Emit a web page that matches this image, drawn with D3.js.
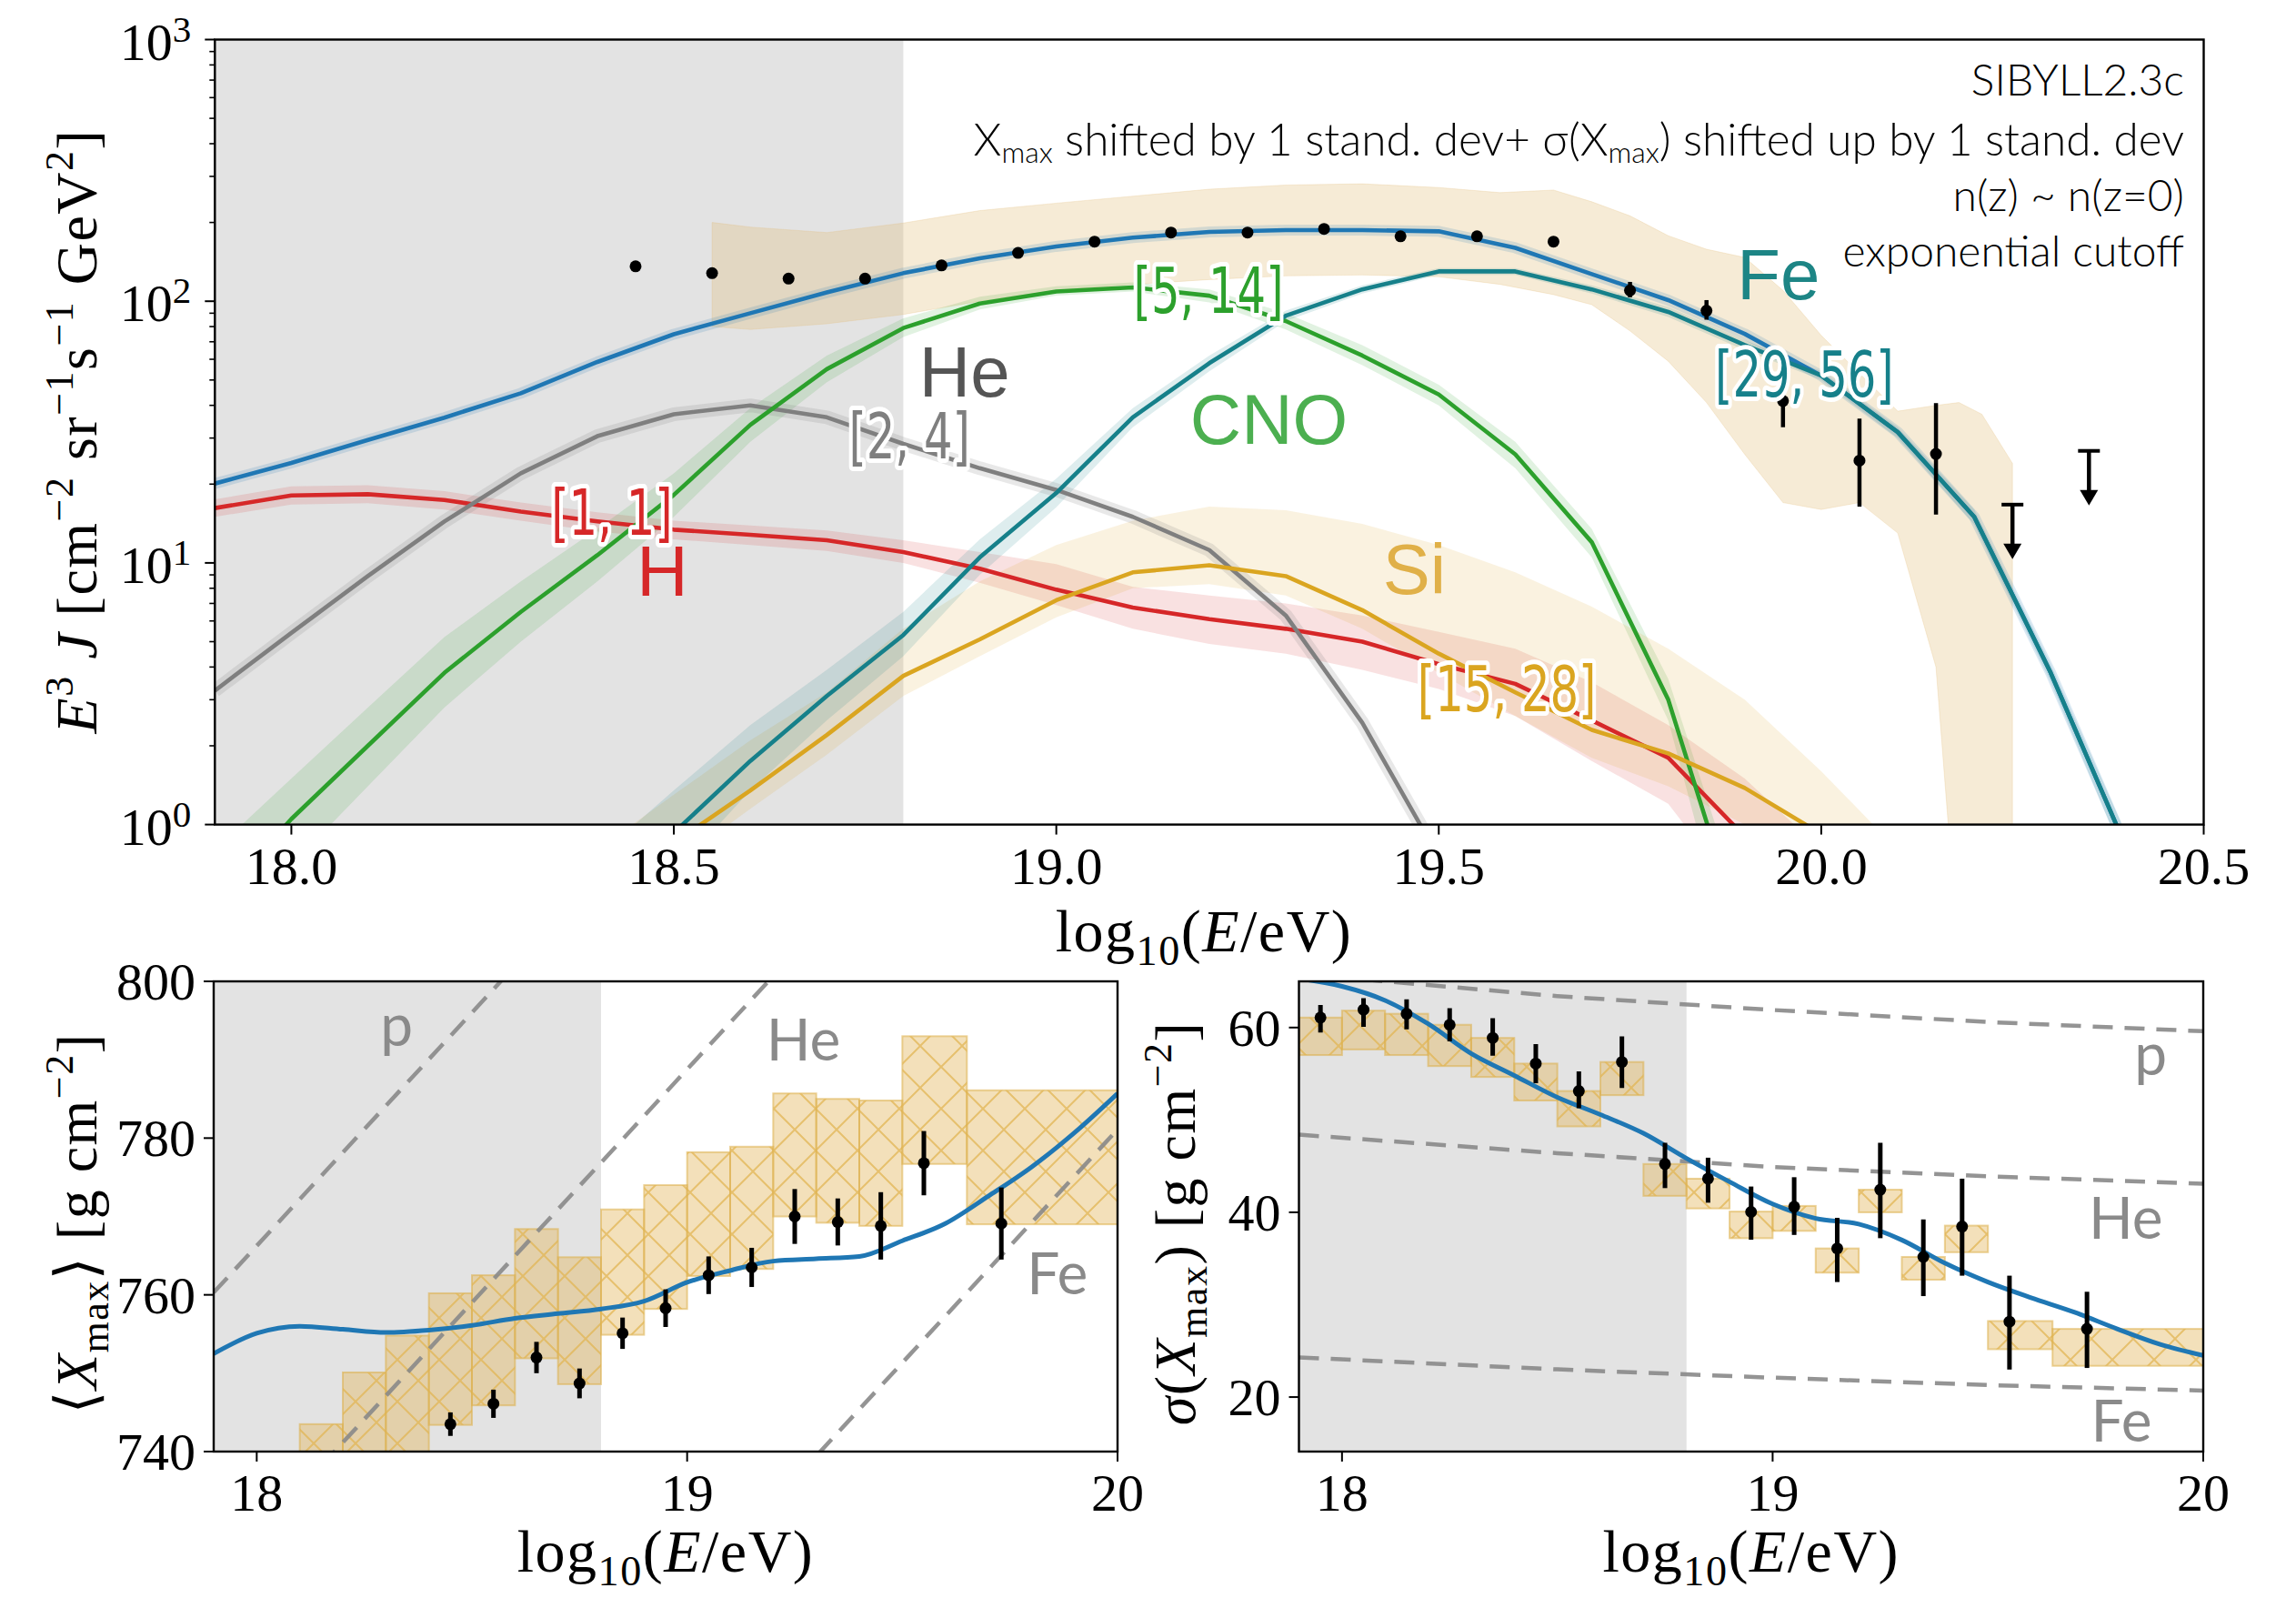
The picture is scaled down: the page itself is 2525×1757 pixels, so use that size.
<!DOCTYPE html>
<html>
<head>
<meta charset="utf-8">
<script src="https://cdn.jsdelivr.net/npm/d3@7"></script>
<style>
  body { margin: 0; background: #fff; }
  text { white-space: pre; }
</style>
</head>
<body>
<svg id="chart" width="2525" height="1757"></svg>
<script>
// ---------------- data: upper panel (E^3 J) ----------------
const lgE = [17.9, 18.0, 18.1, 18.2, 18.3, 18.4, 18.5, 18.6, 18.7, 18.8, 18.9, 19.0, 19.1,
             19.2, 19.3, 19.4, 19.5, 19.6, 19.7, 19.8, 19.9, 20.0, 20.1, 20.2, 20.3, 20.4];
const fluxTotal = [20.1, 24.1, 29.5, 35.9, 44.5, 58.6, 74.8, 90, 108, 128, 146, 162, 175,
                   184, 187, 187, 185, 160, 127, 101, 75, 52, 31.6, 15, 3.8, 0.8];
const fluxH   = [16.2, 18.1, 18.3, 17.4, 15.7, 14.4, 13.4, 12.8, 12.2, 11.0, 9.5, 7.9, 6.75,
                 6.1, 5.6, 5.0, 4.1, 3.45, 2.5, 1.8, 0.9, 0.35, null, null, null, null];
const fluxHlo = [15.0, 16.7, 16.9, 16.0, 14.5, 13.2, 12.3, 11.7, 11.1, 10.0, 8.4, 6.9, 5.6,
                 4.9, 4.5, 3.9, 3.3, 2.6, 1.75, 1.2, 0.5, 0.2, null, null, null, null];
const fluxHhi = [17.5, 19.6, 19.8, 18.8, 17.0, 15.6, 14.5, 13.9, 13.3, 12.2, 11.0, 9.9, 8.1,
                 7.5, 7.0, 6.3, 5.45, 4.7, 3.5, 2.4, 1.5, 0.8, null, null, null, null];
const fluxHe  = [3.25, 5.4, 8.9, 14.4, 22, 30.5, 37, 40, 36, 28.5, 23, 19, 15,
                 11.2, 6.3, 2.45, 0.75, 0.2, null, null, null, null, null, null, null, null];
const fluxCNO   = [0.5, 1.05, 2.0, 3.8, 6.5, 10.7, 18.2, 33.7, 55, 79, 98, 109, 113,
                   105, 84, 62, 44, 26, 12, 3, 0.35, null, null, null, null, null];
const fluxCNOlo = [0.3, 0.7, 1.4, 2.8, 5.0, 8.5, 15.0, 29, 49, 73, 93, 105, 109,
                   99, 78, 57, 40, 23, 10.5, 2.5, 0.2, null, null, null, null, null];
const fluxCNOhi = [0.8, 1.5, 2.8, 5.2, 8.5, 13.5, 22, 39, 62, 86, 104, 114, 118,
                   111, 90, 68, 48, 29, 13.5, 3.6, 0.45, null, null, null, null, null];
const fluxSi   = [null, null, null, null, null, 0.5, 0.85, 1.35, 2.2, 3.7, 5.1, 7.2, 9.2,
                  9.8, 8.9, 6.6, 4.5, 3.2, 2.3, 1.87, 1.38, 0.92, 0.5, null, null, null];
const fluxSilo = [null, null, null, null, null, 0.35, 0.7, 1.15, 1.85, 3.1, 4.4, 6.2, 8.0,
                  8.3, 7.5, 5.6, 3.8, 2.6, 1.8, 1.4, 1.0, 0.6, 0.3, null, null, null];
const fluxSihi = [null, null, null, null, null, 0.8, 1.3, 2.1, 3.2, 5.6, 8.5, 11.7, 14.5,
                  16.4, 15.9, 14.1, 11.7, 9.2, 6.8, 4.7, 3.0, 1.6, 0.8, null, null, null];
const fluxFe   = [null, null, null, null, null, 0.45, 0.93, 1.75, 3.1, 5.3, 10.5, 18.5, 36,
                  58, 88, 111, 130, 130, 111, 91, 68, 52, 31.6, 15, 3.8, 0.8];
const fluxFelo = [null, null, null, null, null, 0.3, 0.65, 1.35, 2.5, 4.4, 9.0, 16.3, 33,
                  54, 84, 107, 126, 126, 107, 87, 65, 50, 30, 14, 3.5, 0.7];
const fluxFehi = [null, null, null, null, null, 0.75, 1.35, 2.4, 3.9, 6.5, 12.3, 21, 39,
                  62, 92, 115, 134, 134, 115, 95, 71, 54, 33, 16, 4.1, 0.9];

// measured spectrum (points), with its systematic band
const specE  = [18.45, 18.55, 18.65, 18.75, 18.85, 18.95, 19.05, 19.15, 19.25, 19.35, 19.45,
                19.55, 19.65, 19.75, 19.85, 19.95, 20.05, 20.15];
const specJ  = [136, 128, 122, 122, 137, 153, 169, 183, 183, 189, 177, 177, 169, 110, 92, 41.6, 24.6, 26.1];
const specLo = [135, 127, 121, 121, 136, 152, 167, 181, 181, 186, 174, 173, 164, 103.5, 85, 33, 16.4, 15.3];
const specHi = [137, 129, 123, 123, 138, 154, 171, 185, 185, 192, 180, 181, 174, 118.5, 101, 50, 35.6, 40.8];
const limE = [20.25, 20.35];
const limJ = [16.7, 26.8];
const bandE  = [18.55, 18.6, 18.7, 18.8, 18.9, 19.0, 19.1, 19.2, 19.3, 19.4, 19.5, 19.58, 19.65,
                19.7, 19.75, 19.8, 19.85, 19.9, 19.95, 20.0, 20.05, 20.1, 20.15, 20.18, 20.21, 20.25];
const bandHi = [200, 192, 183, 199, 222, 237, 252, 268, 278, 281, 272, 260, 266,
                240, 212, 178, 158, 147, 110, 74, 53, 38, 40, 41, 37, 24];
const bandLo = [80, 78, 82, 89, 100, 110, 116, 121, 125, 126, 124, 116, 106,
                97, 77, 59, 41, 26, 17, 16, 17, 13, 4, 0.3, 0.3, 0.3];

// ---------------- data: lower left (<Xmax>) ----------------
const xmaxBinLo = [18.1, 18.2, 18.3, 18.4, 18.5, 18.6, 18.7, 18.8, 18.9, 19.0, 19.1, 19.2, 19.3, 19.4, 19.5, 19.65];
const xmaxBinHi = [18.2, 18.3, 18.4, 18.5, 18.6, 18.7, 18.8, 18.9, 19.0, 19.1, 19.2, 19.3, 19.4, 19.5, 19.65, 20.0];
const xmaxSysTop = [743.5, 750.1, 754.8, 760.2, 762.5, 768.4, 764.8, 770.9, 774.0, 778.2, 778.9, 785.7, 785.0, 784.8, 793.0, 786.1];
const xmaxSysBot = [727.5, 734.0, 738.8, 743.4, 745.9, 751.9, 748.6, 754.9, 758.2, 762.4, 763.3, 770.0, 769.2, 768.8, 776.7, 769.0];
const xmaxE   = [18.45, 18.55, 18.65, 18.75, 18.85, 18.95, 19.05, 19.15, 19.25, 19.35, 19.45, 19.55, 19.73];
const xmaxVal = [743.5, 746.1, 752.0, 748.7, 755.1, 758.3, 762.5, 763.5, 770.0, 769.3, 768.8, 776.8, 769.1];
const xmaxErr = [1.5, 1.8, 2.0, 1.9, 2.0, 2.4, 2.4, 2.5, 3.5, 3.0, 4.3, 4.1, 4.6];
const modelE = [17.9, 18.0, 18.1, 18.2, 18.3, 18.4, 18.5, 18.6, 18.7, 18.8, 18.9,
                19.0, 19.1, 19.2, 19.3, 19.4, 19.5, 19.6, 19.7, 19.8, 19.9, 20.0];
const xmaxModel = [752.5, 755.1, 756.0, 755.6, 755.2, 755.5, 756.1, 757.0, 757.6, 758.2, 759.2,
                   761.6, 763.1, 764.3, 764.6, 764.9, 766.9, 769.1, 772.6, 776.3, 780.7, 785.7];
const refEndE = [17.9, 20.0];
const xmaxP  = [760.3, 885.3];
const xmaxHe = [723.3, 848.3];
const xmaxFe = [656.1, 781.1];

// ---------------- data: lower right (sigma(Xmax)) ----------------
const sigBinLo = [17.9, 18.0, 18.1, 18.2, 18.3, 18.4, 18.5, 18.6, 18.7, 18.8, 18.9, 19.0, 19.1, 19.2, 19.3, 19.4, 19.5, 19.65];
const sigBinHi = [18.0, 18.1, 18.2, 18.3, 18.4, 18.5, 18.6, 18.7, 18.8, 18.9, 19.0, 19.1, 19.2, 19.3, 19.4, 19.5, 19.65, 20.0];
const sigSysTop = [61.08, 61.83, 61.49, 60.3, 58.88, 56.1, 53.13, 56.27, 45.23, 43.64, 40.08, 40.69, 36.09, 42.45, 35.17, 38.56, 28.23, 27.38];
const sigSysBot = [57.02, 57.63, 57.02, 55.83, 54.65, 52.1, 49.3, 52.68, 41.78, 40.42, 37.2, 37.99, 33.47, 40.0, 32.7, 35.68, 25.18, 23.38];
const sigE   = [17.95, 18.05, 18.15, 18.25, 18.35, 18.45, 18.55, 18.65, 18.75, 18.85, 18.95, 19.05, 19.15, 19.25, 19.35, 19.44, 19.55, 19.73];
const sigVal = [61.08, 61.93, 61.49, 60.3, 58.88, 56.1, 53.13, 56.27, 45.23, 43.64, 40.04, 40.6, 36.09, 42.45, 35.17, 38.46, 28.16, 27.38];
const sigLo  = [59.46, 60.07, 59.8, 58.5, 56.95, 53.97, 51.27, 53.46, 42.62, 41.04, 37.03, 37.55, 32.45, 37.2, 30.93, 33.14, 22.98, 23.15];
const sigHi  = [62.44, 63.18, 63.05, 62.1, 61.01, 58.2, 55.26, 59.05, 47.53, 45.91, 42.79, 43.8, 39.4, 47.53, 39.23, 43.64, 33.14, 31.4];
const sigModel = [65.3, 64.46, 62.94, 60.4, 57.19, 54.82, 52.45, 50.58, 48.55, 45.84, 43.3,
                  40.9, 39.34, 38.72, 37.0, 34.5, 32.45, 30.76, 29.2, 27.38, 25.7, 24.5];
const refSigE = [17.9, 18.5, 19.0, 19.5, 20.0];
const sigP  = [65.8, 63.4, 61.9, 60.6, 59.6];
const sigHeRef = [48.4, 46.4, 44.9, 43.9, 43.1];
const sigFeRef = [24.3, 23.0, 22.1, 21.3, 20.7];

// ---------------- style ----------------
const serif = "'Liberation Serif', 'DejaVu Serif', serif";
const gill = "Lato, 'Open Sans', sans-serif";
const sans = "'Liberation Sans', Arial, sans-serif";
const narrow = "'Liberation Sans Narrow', 'DejaVu Sans Condensed', sans-serif";
const cBlue = "#1f77b4", cRed = "#d62728", cGray = "#7f7f7f", cGreen = "#2ca02c",
      cTeal = "#16808a", cGold = "#daa520", cShade = "#e3e3e3";

const svg = d3.select("#chart");
svg.append("rect").attr("width", 2525).attr("height", 1757).attr("fill", "#fff");
const defs = svg.append("defs");

const hatch = defs.append("pattern").attr("id", "hatch")
    .attr("patternUnits", "userSpaceOnUse").attr("width", 46).attr("height", 46);
hatch.append("path").attr("d", "M0,0L46,46M46,0L0,46M-23,23L23,69M23,-23L69,23M23,-23L-23,23M69,23L23,69")
    .attr("stroke", "#e2b654").attr("stroke-width", 2).attr("opacity", 0.75);

function clip(id, x0, y0, x1, y1) {
    defs.append("clipPath").attr("id", id).append("rect")
        .attr("x", x0).attr("y", y0).attr("width", x1 - x0).attr("height", y1 - y0);
}

function logELabel(g, cx, y, size) {
    const t = g.append("text").attr("x", cx).attr("y", y).attr("text-anchor", "middle")
        .attr("font-family", serif).attr("font-size", size).attr("letter-spacing", 1.5);
    t.append("tspan").text("log");
    t.append("tspan").attr("font-size", size * 0.7).attr("dy", size * 0.22).text("10");
    t.append("tspan").attr("dy", -size * 0.22).text("(");
    t.append("tspan").attr("font-style", "italic").text("E");
    t.append("tspan").text("/eV)");
}

// ================= upper panel =================
const T = {left: 236.3, right: 2423.5, top: 43.5, bottom: 906.6};
const x1 = d3.scaleLinear().domain([17.9, 20.5]).range([T.left, T.right]);
const y1 = d3.scaleLog().domain([1, 1000]).range([T.bottom, T.top]);
clip("clipTop", T.left, T.top, T.right, T.bottom);

const gT = svg.append("g");
const plotT = gT.append("g").attr("clip-path", "url(#clipTop)");

plotT.append("rect").attr("x", x1(17.9)).attr("y", T.top)
    .attr("width", x1(18.8) - x1(17.9)).attr("height", T.bottom - T.top).attr("fill", cShade);

const rowsOf = (ys, lo, hi) => lgE.map((e, i) => ({x: e, y: ys[i], lo: lo ? lo[i] : null, hi: hi ? hi[i] : null}));
const lineT = d3.line().defined(d => d.y != null).x(d => x1(d.x)).y(d => y1(d.y));
const areaT = d3.area().defined(d => d.lo != null).x(d => x1(d.x)).y0(d => y1(d.lo)).y1(d => y1(d.hi));

// measured-spectrum systematic band
const bandRows = bandE.map((e, i) => ({x: e, lo: bandLo[i], hi: bandHi[i]}));
plotT.append("path").attr("d", areaT(bandRows)).attr("fill", "#e2bc78").attr("fill-opacity", 0.3)
    .attr("stroke", "#e2bc78").attr("stroke-opacity", 0.25);

// component bands
[[fluxH, fluxHlo, fluxHhi, cRed], [fluxCNO, fluxCNOlo, fluxCNOhi, cGreen],
 [fluxSi, fluxSilo, fluxSihi, cGold], [fluxFe, fluxFelo, fluxFehi, cTeal]].forEach(([v, lo, hi, c]) => {
    plotT.append("path").attr("d", areaT(rowsOf(v, lo, hi))).attr("fill", c).attr("fill-opacity", 0.14);
});
// thin uncertainty halos
[[fluxTotal, cBlue, 12, 0.16], [fluxHe, cGray, 15, 0.18]].forEach(([v, c, w, o]) => {
    plotT.append("path").attr("d", lineT(rowsOf(v))).attr("fill", "none")
        .attr("stroke", c).attr("stroke-width", w).attr("stroke-opacity", o).attr("stroke-linejoin", "round");
});

// lines
[[fluxTotal, cBlue], [fluxH, cRed], [fluxHe, cGray], [fluxCNO, cGreen], [fluxSi, cGold], [fluxFe, cTeal]]
    .forEach(([v, c]) => {
        plotT.append("path").attr("d", lineT(rowsOf(v))).attr("fill", "none")
            .attr("stroke", c).attr("stroke-width", 4.6).attr("stroke-linejoin", "round");
    });

// spectrum points
specE.forEach((e, i) => {
    gT.append("line").attr("x1", x1(e)).attr("x2", x1(e))
        .attr("y1", y1(specLo[i])).attr("y2", y1(specHi[i]))
        .attr("stroke", "#000").attr("stroke-width", 4.5);
    gT.append("circle").attr("cx", x1(e)).attr("cy", y1(specJ[i])).attr("r", 6.5).attr("fill", "#000");
});
limE.forEach((e, i) => {
    const px = x1(e), py = y1(limJ[i]);
    gT.append("line").attr("x1", px - 12).attr("x2", px + 12).attr("y1", py).attr("y2", py)
        .attr("stroke", "#000").attr("stroke-width", 4);
    gT.append("line").attr("x1", px).attr("x2", px).attr("y1", py).attr("y2", py + 46)
        .attr("stroke", "#000").attr("stroke-width", 4.5);
    gT.append("path").attr("d", `M${px - 10},${py + 43}L${px + 10},${py + 43}L${px},${py + 60}Z`).attr("fill", "#000");
});

// curve labels
const bigLabels = [
    {t: "He", e: 18.88, v: 43.2, c: "#555555"},
    {t: "CNO", e: 19.278, v: 28.5, c: "#4caf50"},
    {t: "H", e: 18.485, v: 7.5, c: cRed},
    {t: "Si", e: 19.468, v: 7.64, c: "#e0b048"},
    {t: "Fe", e: 19.944, v: 101.4, c: "#1d8585"}
];
bigLabels.forEach(l => {
    gT.append("text").attr("x", x1(l.e)).attr("y", y1(l.v)).attr("text-anchor", "middle")
        .attr("font-family", sans).attr("font-size", 78).attr("fill", l.c).text(l.t);
});
const rangeLabels = [
    {t: "[2, 4]", e: 18.808, v: 25.0, c: cGray},
    {t: "[5, 14]", e: 19.199, v: 90, c: cGreen},
    {t: "[1, 1]", e: 18.419, v: 12.8, c: cRed},
    {t: "[15, 28]", e: 19.589, v: 2.70, c: cGold},
    {t: "[29, 56]", e: 19.978, v: 43.2, c: cTeal}
];
rangeLabels.forEach(l => {
    gT.append("text").attr("transform", `translate(${x1(l.e)},${y1(l.v)}) scale(0.8,1)`)
        .attr("text-anchor", "middle")
        .attr("font-family", narrow).attr("font-size", 69).attr("fill", l.c)
        .attr("stroke", "#fff").attr("stroke-width", 10).attr("stroke-linejoin", "round")
        .attr("paint-order", "stroke").text(l.t);
});

// annotation block
const noteX = 2402;
gT.append("text").attr("x", noteX).attr("y", 105).attr("text-anchor", "end")
    .attr("font-family", gill).attr("font-weight", 300).attr("font-size", 48).text("SIBYLL2.3c");
const n2 = gT.append("text").attr("x", noteX).attr("y", 171).attr("text-anchor", "end")
    .attr("font-family", gill).attr("font-weight", 300).attr("font-size", 49.5);
n2.append("tspan").text("X");
n2.append("tspan").attr("font-size", 32).attr("dy", 8).text("max");
n2.append("tspan").attr("dy", -8).text(" shifted by 1 stand. dev+ σ(X");
n2.append("tspan").attr("font-size", 32).attr("dy", 8).text("max");
n2.append("tspan").attr("dy", -8).text(") shifted up by 1 stand. dev");
gT.append("text").attr("x", noteX).attr("y", 232).attr("text-anchor", "end")
    .attr("font-family", gill).attr("font-weight", 300).attr("font-size", 48).text("n(z) ~ n(z=0)");
gT.append("text").attr("x", noteX).attr("y", 293).attr("text-anchor", "end")
    .attr("font-family", gill).attr("font-weight", 300).attr("font-size", 48).text("exponential cutoff");

// frame and ticks
gT.append("rect").attr("x", T.left).attr("y", T.top).attr("width", T.right - T.left)
    .attr("height", T.bottom - T.top).attr("fill", "none").attr("stroke", "#000").attr("stroke-width", 2.4);
[18.0, 18.5, 19.0, 19.5, 20.0, 20.5].forEach(v => {
    gT.append("line").attr("x1", x1(v)).attr("x2", x1(v)).attr("y1", T.bottom).attr("y2", T.bottom + 11)
        .attr("stroke", "#000").attr("stroke-width", 2);
    gT.append("text").attr("x", x1(v)).attr("y", T.bottom + 65).attr("text-anchor", "middle")
        .attr("font-family", serif).attr("font-size", 58).text(d3.format(".1f")(v));
});
[1, 10, 100, 1000].forEach((v, k) => {
    gT.append("line").attr("x1", T.left - 11).attr("x2", T.left).attr("y1", y1(v)).attr("y2", y1(v))
        .attr("stroke", "#000").attr("stroke-width", 2);
    const t = gT.append("text").attr("x", T.left - 26).attr("y", y1(v) + 22).attr("text-anchor", "end")
        .attr("font-family", serif).attr("font-size", 58);
    t.append("tspan").text("10");
    t.append("tspan").attr("font-size", 41).attr("dy", -20).text(k);
});
[1, 10, 100].forEach(dec => d3.range(2, 10).forEach(m => {
    const yy = y1(dec * m);
    gT.append("line").attr("x1", T.left - 6).attr("x2", T.left).attr("y1", yy).attr("y2", yy)
        .attr("stroke", "#000").attr("stroke-width", 1.6);
}));
logELabel(gT, 1324, 1046, 66);
const yl = gT.append("text").attr("transform", "translate(106,474) rotate(-90)")
    .attr("text-anchor", "middle").attr("font-family", serif).attr("font-size", 64)
    .attr("letter-spacing", 1.5);
yl.append("tspan").attr("font-style", "italic").text("E");
yl.append("tspan").attr("font-size", 44).attr("dy", -26).text("3");
yl.append("tspan").attr("dy", 26).attr("font-style", "italic").text(" J");
yl.append("tspan").text(" [cm");
yl.append("tspan").attr("font-size", 44).attr("dy", -26).text("−2");
yl.append("tspan").attr("dy", 26).text(" sr");
yl.append("tspan").attr("font-size", 44).attr("dy", -26).text("−1");
yl.append("tspan").attr("dy", 26).text("s");
yl.append("tspan").attr("font-size", 44).attr("dy", -26).text("−1");
yl.append("tspan").attr("dy", 26).text(" GeV");
yl.append("tspan").attr("font-size", 44).attr("dy", -26).text("2");
yl.append("tspan").attr("dy", 26).text("]");

// ================= lower panels =================
function lowerPanel(o) {
    const g = svg.append("g");
    const x = d3.scaleLinear().domain([17.9, 20.0]).range([o.left, o.right]);
    const y = d3.scaleLinear().domain(o.ydom).range([o.bottom, o.top]);
    clip(o.id, o.left, o.top, o.right, o.bottom);
    const plot = g.append("g").attr("clip-path", `url(#${o.id})`);
    plot.append("rect").attr("x", x(17.9)).attr("y", o.top).attr("width", x(18.8) - x(17.9))
        .attr("height", o.bottom - o.top).attr("fill", cShade);
    // systematic boxes
    o.binLo.forEach((b, i) => {
        const rx = x(b), rw = x(o.binHi[i]) - x(b), ry = y(o.sysTop[i]), rh = y(o.sysBot[i]) - y(o.sysTop[i]);
        plot.append("rect").attr("x", rx).attr("y", ry).attr("width", rw).attr("height", rh)
            .attr("fill", "#e2b65a").attr("fill-opacity", 0.42)
            .attr("stroke", "#dcae48").attr("stroke-opacity", 0.55).attr("stroke-width", 2);
        plot.append("rect").attr("x", rx).attr("y", ry).attr("width", rw).attr("height", rh)
            .attr("fill", "url(#hatch)");
    });
    // reference compositions
    o.refs.forEach(r => {
        plot.append("path").attr("d", d3.line().x(d => x(d[0])).y(d => y(d[1]))(r.e.map((e, i) => [e, r.v[i]])))
            .attr("fill", "none").attr("stroke", "#888").attr("stroke-width", 4.5)
            .attr("stroke-dasharray", "22,13").attr("stroke-opacity", 0.9);
    });
    // model
    plot.append("path").attr("d", d3.line().curve(d3.curveMonotoneX).x(d => x(d[0])).y(d => y(d[1]))(
        modelE.map((e, i) => [e, o.model[i]])))
        .attr("fill", "none").attr("stroke", cBlue).attr("stroke-width", 5);
    // data
    o.ptE.forEach((e, i) => {
        plot.append("line").attr("x1", x(e)).attr("x2", x(e)).attr("y1", y(o.ptLo[i])).attr("y2", y(o.ptHi[i]))
            .attr("stroke", "#000").attr("stroke-width", 5);
        plot.append("circle").attr("cx", x(e)).attr("cy", y(o.ptV[i])).attr("r", 6.5).attr("fill", "#000");
    });
    // composition labels
    o.labels.forEach(l => {
        g.append("text").attr("x", x(l.e)).attr("y", y(l.v)).attr("text-anchor", "middle")
            .attr("font-family", gill).attr("font-size", 64).attr("fill", "#8a8a8a").text(l.t);
    });
    // frame, ticks
    g.append("rect").attr("x", o.left).attr("y", o.top).attr("width", o.right - o.left)
        .attr("height", o.bottom - o.top).attr("fill", "none").attr("stroke", "#000").attr("stroke-width", 2.4);
    [18, 19, 20].forEach(v => {
        g.append("line").attr("x1", x(v)).attr("x2", x(v)).attr("y1", o.bottom).attr("y2", o.bottom + 11)
            .attr("stroke", "#000").attr("stroke-width", 2);
        g.append("text").attr("x", x(v)).attr("y", o.bottom + 65).attr("text-anchor", "middle")
            .attr("font-family", serif).attr("font-size", 58).text(v);
    });
    o.yticks.forEach(v => {
        g.append("line").attr("x1", o.left - 11).attr("x2", o.left).attr("y1", y(v)).attr("y2", y(v))
            .attr("stroke", "#000").attr("stroke-width", 2);
        g.append("text").attr("x", o.left - 20).attr("y", y(v) + 20).attr("text-anchor", "end")
            .attr("font-family", serif).attr("font-size", 58).text(v);
    });
    logELabel(g, (o.left + o.right) / 2, 1728, 66);
    const t = g.append("text").attr("transform", `translate(${o.ylabX},1345) rotate(-90)`)
        .attr("text-anchor", "middle").attr("font-family", serif).attr("font-size", 64)
        .attr("letter-spacing", 1.5);
    o.ylab(t);
    return g;
}

lowerPanel({
    id: "clipBL", left: 235, right: 1229, top: 1079, bottom: 1596, ydom: [740, 800],
    binLo: xmaxBinLo, binHi: xmaxBinHi, sysTop: xmaxSysTop, sysBot: xmaxSysBot,
    refs: [{e: refEndE, v: xmaxP}, {e: refEndE, v: xmaxHe}, {e: refEndE, v: xmaxFe}],
    model: xmaxModel,
    ptE: xmaxE, ptV: xmaxVal,
    ptLo: xmaxVal.map((v, i) => v - xmaxErr[i]), ptHi: xmaxVal.map((v, i) => v + xmaxErr[i]),
    labels: [{t: "p", e: 18.325, v: 791.8}, {t: "He", e: 19.27, v: 789.9}, {t: "Fe", e: 19.86, v: 760.1}],
    yticks: [740, 760, 780, 800], ylabX: 106,
    ylab: t => {
        t.append("tspan").text("⟨");
        t.append("tspan").attr("font-style", "italic").text("X");
        t.append("tspan").attr("font-size", 44).attr("dy", 13).text("max");
        t.append("tspan").attr("dy", -13).text("⟩ [g cm");
        t.append("tspan").attr("font-size", 44).attr("dy", -26).text("−2");
        t.append("tspan").attr("dy", 26).text("]");
    }
});

lowerPanel({
    id: "clipBR", left: 1428.5, right: 2423, top: 1079, bottom: 1596, ydom: [14.1, 65],
    binLo: sigBinLo, binHi: sigBinHi, sysTop: sigSysTop, sysBot: sigSysBot,
    refs: [{e: refSigE, v: sigP}, {e: refSigE, v: sigHeRef}, {e: refSigE, v: sigFeRef}],
    model: sigModel,
    ptE: sigE, ptV: sigVal, ptLo: sigLo, ptHi: sigHi,
    labels: [{t: "p", e: 19.878, v: 54.84}, {t: "He", e: 19.82, v: 37.1}, {t: "Fe", e: 19.81, v: 15.2}],
    yticks: [20, 40, 60], ylabX: 1314,
    ylab: t => {
        t.append("tspan").attr("font-style", "italic").text("σ");
        t.append("tspan").text("(");
        t.append("tspan").attr("font-style", "italic").text("X");
        t.append("tspan").attr("font-size", 44).attr("dy", 13).text("max");
        t.append("tspan").attr("dy", -13).text(") [g cm");
        t.append("tspan").attr("font-size", 44).attr("dy", -26).text("−2");
        t.append("tspan").attr("dy", 26).text("]");
    }
});
</script>
</body>
</html>
